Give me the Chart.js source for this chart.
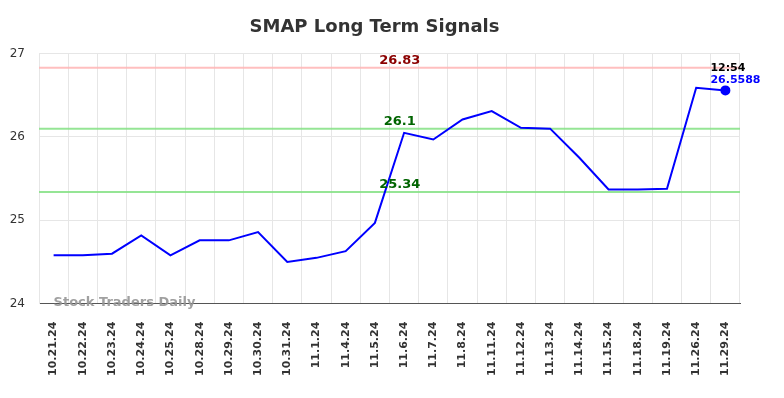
<!DOCTYPE html>
<html><head><meta charset="utf-8">
<script src="https://cdn.jsdelivr.net/npm/chart.js@4/dist/chart.umd.min.js"></script>
<style>html,body{margin:0;padding:0;background:#fff}#wrap{width:784px;height:398px}</style>
</head><body><div id="wrap"><canvas id="c" width="784" height="398"></canvas></div>
<script>
const categories = ["10.21.24","10.22.24","10.23.24","10.24.24","10.25.24","10.28.24","10.29.24","10.30.24","10.31.24","11.1.24","11.4.24","11.5.24","11.6.24","11.7.24","11.8.24","11.11.24","11.12.24","11.13.24","11.14.24","11.15.24","11.18.24","11.19.24","11.26.24","11.29.24"];
const prices = [24.58,24.58,24.60,24.82,24.58,24.76,24.76,24.86,24.50,24.55,24.63,24.97,26.05,25.97,26.21,26.31,26.11,26.10,25.75,25.37,25.37,25.38,26.59,26.5588];
const resistance = 26.83;
const supportLines = [26.1, 25.34];
const yTicks = [24,25,26,27];
const lastTime = "12:54";
const lastLabel = "26.5588";

const signalPlugin = {
  id: 'signals',
  beforeDatasetsDraw(chart) {
    const {ctx, chartArea:a, scales:{x,y}} = chart;
    ctx.save();
    const lines = [{v:resistance, c:'rgba(255,180,180,0.85)'}].concat(supportLines.map(v=>({v, c:'rgba(130,225,130,0.85)'})));
    lines.forEach(l=>{
      const py = y.getPixelForValue(l.v);
      ctx.strokeStyle=l.c; ctx.lineWidth=2;
      ctx.beginPath(); ctx.moveTo(a.left,py); ctx.lineTo(a.right,py); ctx.stroke();
    });
    ctx.restore();
  },
  afterDatasetsDraw(chart) {
    const {ctx, chartArea:a, scales:{x,y}} = chart;
    ctx.save();
    ctx.font = 'bold 13px "DejaVu Sans"';
    ctx.textAlign='center'; ctx.textBaseline='bottom';
    const cx = x.getPixelForValue(11) + 0.85*(x.getPixelForValue(12)-x.getPixelForValue(11));
    ctx.fillStyle='#8b0000';
    ctx.fillText(String(resistance), cx, y.getPixelForValue(resistance)-1);
    ctx.fillStyle='#006400';
    supportLines.forEach(v=>ctx.fillText(String(v), cx, y.getPixelForValue(v)-1));
    // watermark
    ctx.font='bold 13px "DejaVu Sans"'; ctx.fillStyle='rgba(150,150,150,0.9)';
    ctx.textAlign='left'; ctx.textBaseline='bottom';
    ctx.fillText('Stock Traders Daily', x.getPixelForValue(0), a.bottom+5);
    // last point annotation
    const li = prices.length-1;
    const px = x.getPixelForValue(li), py = y.getPixelForValue(prices[li]);
    ctx.font='bold 11px "DejaVu Sans"'; ctx.textAlign='left'; ctx.textBaseline='middle';
    ctx.fillStyle='#000'; ctx.fillText(lastTime, px-15, py-22);
    ctx.fillStyle='#0000ff'; ctx.fillText(lastLabel, px-15, py-10);
    ctx.restore();
  }
};

new Chart(document.getElementById('c'), {
  type:'line',
  data:{labels:categories, datasets:[{data:prices, borderColor:'#0000ff', borderWidth:2, tension:0, fill:false,
    pointRadius: prices.map((v,i)=>i===prices.length-1?4:0), pointBackgroundColor:'#0000ff', pointBorderColor:'#0000ff'}]},
  options:{
    responsive:false, animation:false, devicePixelRatio:1,
    layout:{padding:{left:9,right:44,top:0,bottom:4}},
    plugins:{legend:{display:false}, tooltip:{enabled:false},
      title:{display:true, text:'SMAP Long Term Signals', color:'#333', font:{family:'"DejaVu Sans"', size:18, weight:'bold'}, padding:{top:17,bottom:15}}},
    scales:{
      x:{offset:true, grid:{offset:true, color:'#e6e6e6', drawTicks:false}, border:{color:'#555', width:1},
        ticks:{color:'#333', font:{family:'"DejaVu Sans"', size:11, weight:'bold'}, minRotation:90, maxRotation:90, padding:18, autoSkip:false}},
      y:{min:24, max:27, afterBuildTicks(s){s.ticks=yTicks.map(v=>({value:v}));}, afterFit(s){s.width=30;},
        grid:{color:'#e6e6e6', drawTicks:false}, border:{color:'#e6e6e6'},
        ticks:{color:'#333', font:{family:'"DejaVu Sans"', size:12}, padding:14}}
    }
  },
  plugins:[signalPlugin]
});
</script></body></html>
